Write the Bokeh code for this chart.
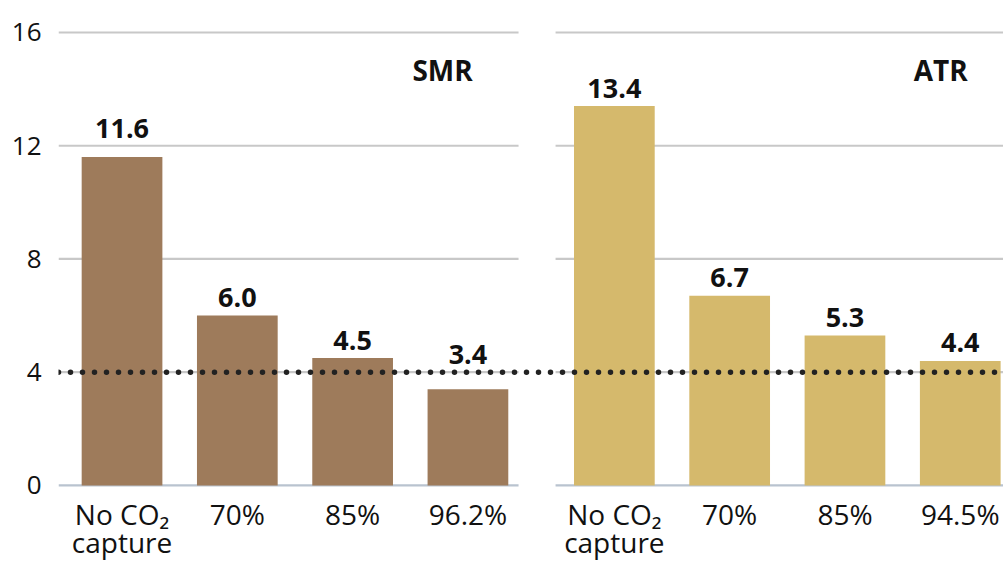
from bokeh.plotting import figure
from bokeh.models import ColumnDataSource, FixedTicker, Span, Range1d
from bokeh.core.properties import value
from bokeh.embed import file_html
from bokeh.resources import INLINE

# ---- data ----
categories_smr = ["No CO\u2082\ncapture", "70%", "85%", "96.2%"]
values_smr = [11.6, 6.0, 4.5, 3.4]
categories_atr = ["No CO\u2082\ncapture", "70%", "85%", "94.5%"]
values_atr = [13.4, 6.7, 5.3, 4.4]
y_ticks = [0, 4, 8, 12, 16]
threshold = 4
panel_titles = ["SMR", "ATR"]

# ---- layout / style constants ----
FONT = "Open Sans"
BROWN = "#9e7b5b"
GOLD = "#d5b96c"
GRID = "#c8c8c8"
BASE = "#b9c3cf"
atr_offset = 4.27
x_start, x_end = -0.551, 7.645
left_panel = (x_start, 3.439)
right_panel = (3.76, 7.8)
label_gap = -18                      # px offset of value labels above bar tops
label_extra = {0: -11, 3: -17}       # extra lift for some SMR labels (by bar index)

x_smr = [i for i in range(len(values_smr))]
x_atr = [i + atr_offset for i in range(len(values_atr))]

p = figure(width=1003, height=561, output_backend="svg", toolbar_location=None,
           x_range=Range1d(x_start, x_end), y_range=Range1d(-2.686, 17.13),
           min_border_left=58, min_border_right=0, min_border_top=0, min_border_bottom=0)
p.outline_line_color = None
p.xgrid.visible = False
p.ygrid.visible = False
p.xaxis.visible = False
p.background_fill_color = "white"

# gridlines per panel
gx0, gx1, gy, gc = [], [], [], []
for (a, b) in (left_panel, right_panel):
    for t in y_ticks:
        gx0.append(a); gx1.append(b); gy.append(t)
        gc.append(BASE if t == 0 else GRID)
p.segment(x0=gx0, x1=gx1, y0=gy, y1=gy, line_color=gc, line_width=2.2)

# bars
src_smr = ColumnDataSource(dict(x=x_smr, top=values_smr, cat=categories_smr,
                                lab=[f"{v:.1f}" for v in values_smr],
                                off=[label_gap + label_extra.get(i, 0) for i in range(len(values_smr))]))
src_atr = ColumnDataSource(dict(x=x_atr, top=values_atr, cat=categories_atr,
                                lab=[f"{v:.1f}" for v in values_atr],
                                off=[label_gap for _ in values_atr]))
p.vbar(x="x", top="top", bottom=0, width=0.7, source=src_smr, fill_color=BROWN, line_color=None)
p.vbar(x="x", top="top", bottom=0, width=0.7, source=src_atr, fill_color=GOLD, line_color=None)

for src in (src_smr, src_atr):
    # value labels
    p.text(x="x", y="top", text="lab", source=src, text_align="center",
           text_baseline="alphabetic", y_offset="off", text_font=value(FONT),
           text_font_style="bold", text_font_size="27px", text_color="#111111")
    # category labels (x axis)
    p.text(x="x", y=0, text="cat", source=src, text_align="center",
           text_baseline="top", y_offset=10, text_font=value(FONT),
           text_font_size="28px", text_color="#111111", text_line_height=0.72)

# panel titles
p.text(x=[2.78, 7.1], y=[14.69, 14.69], text=panel_titles, text_align="center",
       text_baseline="alphabetic", text_font=value(FONT), text_font_style="bold",
       text_font_size="28px", text_color="#111111")

# threshold dotted line
p.add_layout(Span(location=threshold, dimension="width", line_color="#222222",
                  line_width=5.5, line_dash="0 12", line_cap="round"))

# y axis
p.yaxis.ticker = FixedTicker(ticks=y_ticks)
p.yaxis.axis_line_color = None
p.yaxis.major_tick_line_color = None
p.yaxis.minor_tick_line_color = None
p.yaxis.major_label_standoff = 11
p.yaxis.major_label_text_font = FONT
p.yaxis.major_label_text_font_size = "26px"
p.yaxis.major_label_text_color = "#111111"

open("out.html", "w").write(file_html(p, INLINE))
